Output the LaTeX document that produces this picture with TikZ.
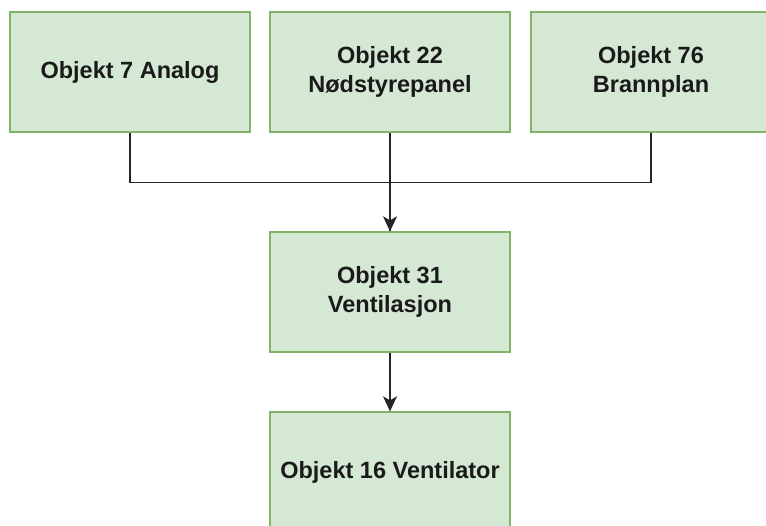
\documentclass[tikz,border=0pt]{standalone}
\usepackage{fontspec}
\setmainfont{Liberation Sans}
\usetikzlibrary{arrows.meta}
\definecolor{boxfill}{HTML}{D5E8D4}
\definecolor{boxdraw}{HTML}{82B366}
\definecolor{txt}{HTML}{1A1A1A}
\begin{document}
\begin{tikzpicture}[x=1pt,y=-1pt,
  obj/.style={draw=boxdraw, fill=boxfill, line width=1.3pt, minimum width=240pt, minimum height=120pt,
    inner sep=0pt, align=center, text=txt, font=\fontsize{23.5}{28.5}\selectfont\bfseries},
  conn/.style={draw=black!85, line width=1.4pt},
  arr/.style={conn, -{Stealth[length=15pt,width=14pt,inset=4pt]}}]
\useasboundingbox (0,0) rectangle (766,526);
\fill[white] (0,0) rectangle (766,526);
\node[obj] (a) at (130,72) {Objekt 7 Analog};
\node[obj] (b) at (390,72) {Objekt 22\\Nødstyrepanel};
\node[obj] (c) at (651,72) {Objekt 76\\Brannplan};
\node[obj] (m) at (390,292) {Objekt 31\\Ventilasjon};
\node[obj] (d) at (390,472) {Objekt 16 Ventilator};
\draw[conn] (a.south) -- ++(0,50) -| (m.north);
\draw[conn] (c.south) -- ++(0,50) -| (m.north);
\draw[arr] (b.south) -- (m.north);
\draw[arr] (m.south) -- (d.north);
\end{tikzpicture}
\end{document}
